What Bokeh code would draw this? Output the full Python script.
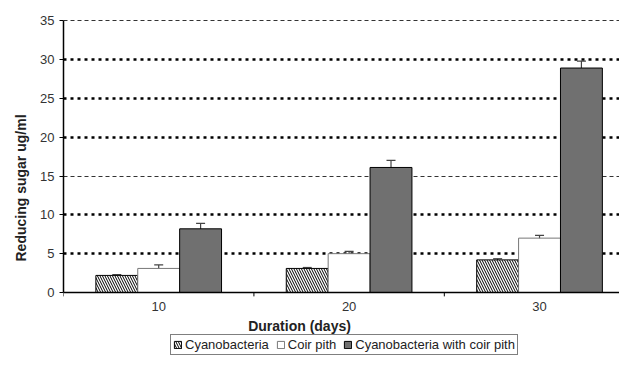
from bokeh.plotting import figure
from bokeh.models import (ColumnDataSource, Range1d, FixedTicker, Whisker, TeeHead,
                          Legend, LegendItem, Grid, Label, Span)
from bokeh.transform import dodge
from bokeh.core.properties import value
from bokeh.embed import file_html
from bokeh.resources import INLINE

# ---- data ----
durations = ["10", "20", "30"]
series_names = ["Cyanobacteria", "Coir pith", "Cyanobacteria with coir pith"]
cyano = [2.2, 3.1, 4.2]
cyano_err = [0.12, 0.12, 0.15]
coir = [3.1, 5.0, 7.0]
coir_err = [0.45, 0.3, 0.35]
combo = [8.2, 16.1, 28.9]
combo_err = [0.7, 0.9, 0.9]
y_ticks = [0, 5, 10, 15, 20, 25, 30, 35]
heavy_grid = [5, 10, 20, 25, 30]
light_grid = [15, 35]
x_title = "Duration (days)"
y_title = "Reducing sugar ug/ml"

centers = [i + 0.5 for i in range(len(durations))]
bounds = [i for i in range(len(durations) + 1)]

def mk(vals, errs):
    return ColumnDataSource(dict(
        x=centers, top=vals,
        upper=[v + e for v, e in zip(vals, errs)],
        lower=[v - e for v, e in zip(vals, errs)],
    ))

src_cy = mk(cyano, cyano_err)
src_co = mk(coir, coir_err)
src_cb = mk(combo, combo_err)

FONT = "Liberation Sans"
Y0 = -8.24   # frame extends below zero to hold the category labels and legend

p = figure(width=619, height=356, output_backend="svg", toolbar_location=None,
           x_range=Range1d(0, 2.92), y_range=Range1d(Y0, 35.15),
           x_axis_location=None,
           min_border_left=63, min_border_right=0, min_border_top=19,
           min_border_bottom=0,
           background_fill_color="white", border_fill_color="white")
p.outline_line_color = None

# grids
p.xgrid.visible = False
p.ygrid.ticker = FixedTicker(ticks=heavy_grid)
p.ygrid.grid_line_color = "black"
p.ygrid.grid_line_width = 2.5
p.ygrid.grid_line_dash = "3 4"
light = Grid(dimension=1, ticker=FixedTicker(ticks=light_grid),
             grid_line_color="#333333", grid_line_width=1.1, grid_line_dash="4 3")
p.add_layout(light)

W = 0.22
r_cy = p.vbar(x=dodge("x", -W, range=p.x_range), top="top", bottom=0, width=W, source=src_cy,
              fill_color="white", line_color="black", line_width=1,
              hatch_pattern="left_diagonal_line", hatch_color="black",
              hatch_scale=5, hatch_weight=1)
r_co = p.vbar(x=dodge("x", 0, range=p.x_range), top="top", bottom=0, width=W, source=src_co,
              fill_color="white", line_color="#777777", line_width=1)
r_cb = p.vbar(x=dodge("x", W, range=p.x_range), top="top", bottom=0, width=W, source=src_cb,
              fill_color="#707070", line_color="black", line_width=1,
              hatch_pattern="checkerboard", hatch_color="#333333",
              hatch_scale=2)

for src, off in ((src_cy, -W), (src_co, 0), (src_cb, W)):
    wk = Whisker(source=src, base=dodge("x", off, range=p.x_range),
                 upper="upper", lower="lower", line_color="#444444", line_width=1.2,
                 upper_head=TeeHead(size=9, line_color="#444444", line_width=1.2),
                 lower_head=TeeHead(size=9, line_color="#444444", line_width=1.2))
    p.add_layout(wk)

# x axis (drawn inside the frame at y = 0)
p.add_layout(Span(location=0, dimension="width", line_color="black", line_width=1.5))
p.segment(x0=bounds, y0=[0] * len(bounds), x1=bounds, y1=[-0.5] * len(bounds),
          line_color="black", line_width=1)
p.text(x=centers, y=[-1.75] * len(centers), text=durations,
       text_font=value(FONT), text_font_size="13px", text_color="#333333",
       text_align="center", text_baseline="middle")
p.add_layout(Label(x=0.97, y=-4.3, text=x_title, text_font=FONT,
                   text_font_size="14px", text_font_style="bold",
                   text_color="#222222", text_align="left", text_baseline="middle"))

# y axis
ya = p.yaxis[0]
ya.ticker = FixedTicker(ticks=y_ticks)
ya.bounds = (0, 35)
ya.minor_tick_line_color = None
ya.major_tick_out = 4
ya.major_tick_in = 0
ya.axis_line_color = "black"
ya.axis_line_width = 1.5
ya.major_label_text_font = FONT
ya.major_label_text_font_size = "13px"
ya.major_label_text_color = "#333333"
ya.major_label_standoff = 5
ya.axis_label = y_title
ya.axis_label_text_font = FONT
ya.axis_label_text_font_size = "14px"
ya.axis_label_text_font_style = "bold"
ya.axis_label_text_color = "#222222"
ya.axis_label_standoff = 8

legend = Legend(items=[LegendItem(label=series_names[0], renderers=[r_cy]),
                       LegendItem(label=series_names[1], renderers=[r_co]),
                       LegendItem(label=series_names[2], renderers=[r_cb])],
                orientation="horizontal", location=(107, 1),
                glyph_width=9, glyph_height=9, label_standoff=3, spacing=7,
                padding=2, margin=0, border_line_color="black", border_line_width=1,
                label_text_font=FONT, label_text_font_size="13px",
                label_text_color="#222222",
                background_fill_color="white", background_fill_alpha=1)
p.add_layout(legend)

open("out.html", "w").write(file_html(p, INLINE))
